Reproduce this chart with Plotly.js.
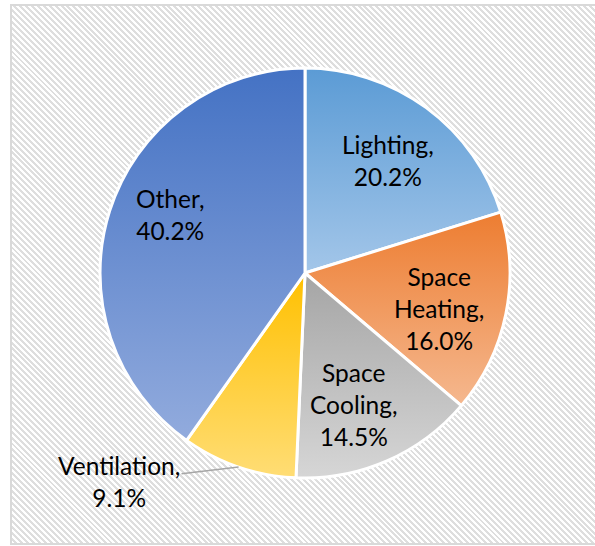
<!DOCTYPE html>
<html>
<head>
<meta charset="utf-8">
<script src="https://cdn.plot.ly/plotly-3.0.1.min.js"></script>
<style>
  html, body { margin: 0; padding: 0; background: #ffffff; }
  #wrap { position: relative; width: 595px; height: 546px; overflow: hidden; }
  #frame {
    position: absolute; left: 10px; top: 4px; width: 620px; height: 537px;
    border: 2px solid #d9d9d9;
    background: repeating-linear-gradient(45deg, #ffffff 0px, #ffffff 2.1px, #dedede 2.1px, #dedede 4.2px);
  }
  #chart { position: absolute; left: 0; top: 0; width: 595px; height: 546px; }
</style>
</head>
<body>
<div id="wrap">
  <div id="frame"></div>
  <div id="chart"></div>
</div>
<script>
// Building energy end uses, share of total consumption (%)
const categories = ["Lighting", "Space Heating", "Space Cooling", "Ventilation", "Other"];
const shares = [20.2, 16.0, 14.5, 9.1, 40.2];
const labelLines = [["Lighting,"], ["Space", "Heating,"], ["Space", "Cooling,"], ["Ventilation,"], ["Other,"]];

// Slice fills: vertical gradient from the base colour (top) to a lighter tint (bottom)
const topColors = ["#5b9bd5", "#ed7d31", "#a5a5a5", "#ffc000", "#4472c4"];
const bottomColors = ["#a3c6e9", "#f5b88f", "#d6d6d6", "#ffdd75", "#92abdd"];

const W = 595, H = 546;
const cx = 305, cy = 273, R = 205;

const px2x = p => p / W;
const py2y = p => 1 - p / H;

const total = shares.reduce((a, b) => a + b, 0);
let acc = 0;
const midAngles = shares.map(v => { const m = (acc + v / 2) / total * 360; acc += v; return m; });

// Label placement: fraction of radius along the slice bisector, with small pixel nudges
const labelRadius = 0.68;
const labelNudge = [[0, 0], [-3, 8], [-7, 4], [0, 0], [-2, -16]];

const font = { family: "Lato, 'Open Sans', sans-serif", size: 24.5, color: "#000000" };

const annotations = [];
categories.forEach((c, i) => {
  const a = midAngles[i] * Math.PI / 180;
  const txt = labelLines[i].concat([shares[i].toFixed(1) + "%"]).join("<br>");
  if (c === "Ventilation") {
    const ex = cx + R * Math.sin(a), ey = cy - R * Math.cos(a);
    annotations.push({
      xref: "paper", yref: "paper", x: px2x(ex), y: py2y(ey),
      text: txt, showarrow: true, arrowhead: 0, arrowwidth: 1.5, arrowcolor: "#a6a6a6",
      ax: 119 - ex, ay: 481 - ey, standoff: 0, font: font, align: "center"
    });
  } else {
    const lx = cx + labelRadius * R * Math.sin(a) + labelNudge[i][0];
    const ly = cy - labelRadius * R * Math.cos(a) + labelNudge[i][1];
    annotations.push({
      xref: "paper", yref: "paper", x: px2x(lx), y: py2y(ly),
      xanchor: "center", yanchor: "middle",
      text: txt, showarrow: false, font: font, align: "center"
    });
  }
});

const trace = {
  type: "pie",
  labels: categories,
  values: shares,
  sort: false,
  direction: "clockwise",
  rotation: 0,
  textinfo: "none",
  hoverinfo: "none",
  showlegend: false,
  marker: { colors: topColors, line: { color: "#ffffff", width: 3 } },
  domain: { x: [px2x(cx - 220), px2x(cx + 220)], y: [py2y(cy + R), py2y(cy - R)] }
};

const layout = {
  width: W, height: H,
  margin: { l: 0, r: 0, t: 0, b: 0 },
  paper_bgcolor: "rgba(0,0,0,0)",
  plot_bgcolor: "rgba(0,0,0,0)",
  annotations: annotations,
  showlegend: false
};

Plotly.newPlot("chart", [trace], layout, { staticPlot: true, displayModeBar: false }).then(gd => {
  const svg = gd.querySelector(".main-svg");
  const ns = "http://www.w3.org/2000/svg";
  let defs = svg.querySelector("defs");
  if (!defs) { defs = document.createElementNS(ns, "defs"); svg.insertBefore(defs, svg.firstChild); }
  const paths = gd.querySelectorAll(".slice path.surface");
  paths.forEach((p, i) => {
    const g = document.createElementNS(ns, "linearGradient");
    g.setAttribute("id", "sliceGrad" + i);
    g.setAttribute("x1", "0"); g.setAttribute("y1", "0");
    g.setAttribute("x2", "0"); g.setAttribute("y2", "1");
    [[0, topColors[i]], [1, bottomColors[i]]].forEach(([o, col]) => {
      const s = document.createElementNS(ns, "stop");
      s.setAttribute("offset", o);
      s.setAttribute("stop-color", col);
      g.appendChild(s);
    });
    defs.appendChild(g);
    p.style.fill = "url(#sliceGrad" + i + ")";
  });
});
</script>
</body>
</html>
